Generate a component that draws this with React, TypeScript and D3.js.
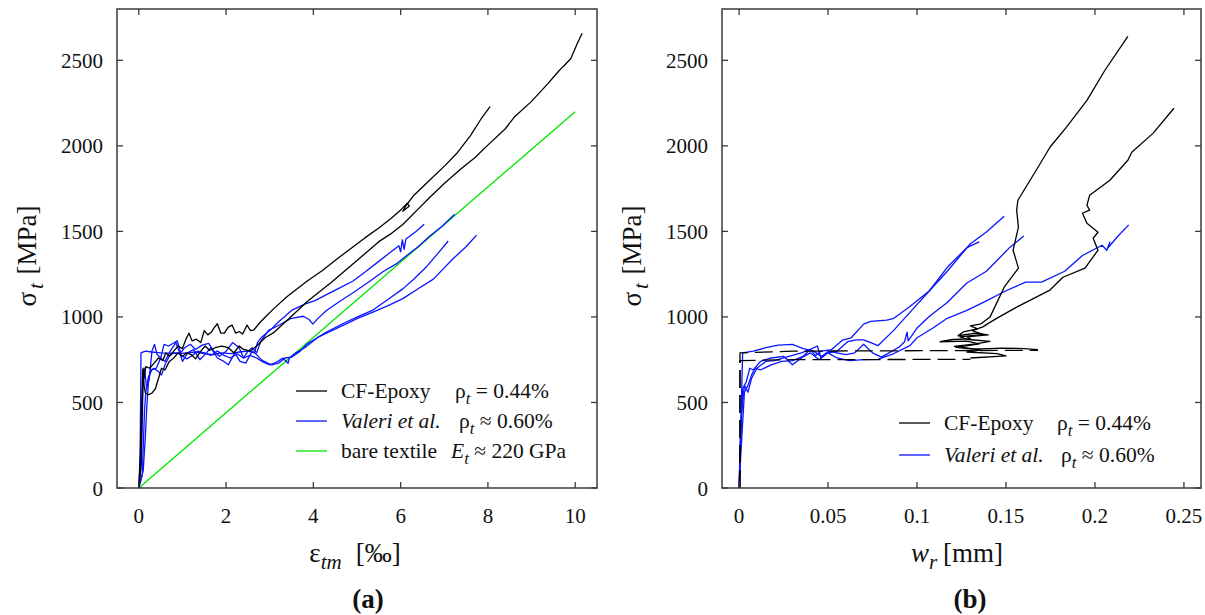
import React from "react";
import * as d3 from "d3";

// ---------- tick values ----------
const strainTicks = [0, 2, 4, 6, 8, 10];
const stressTicks = [0, 500, 1000, 1500, 2000, 2500];
const crackTicks = [0, 0.05, 0.1, 0.15, 0.2, 0.25];
const crackTickLabels = ["0", "0.05", "0.1", "0.15", "0.2", "0.25"];

// ---------- panel (a): strain [‰] vs stress [MPa] ----------
const cfStrainUpper: [number, number][] = [[0,0],[0.03,150],[0.06,450],[0.09,690],[0.12,640],[0.16,710],[0.25,700],[0.35,730],[0.45,760],[0.55,745],[0.62,790],[0.7,770],[0.8,800],[0.9,830],[1.0,815],[1.08,870],[1.15,905],[1.22,860],[1.32,870],[1.42,850],[1.5,920],[1.58,895],[1.66,910],[1.72,935],[1.8,960],[1.88,905],[1.96,905],[2.05,940],[2.14,952],[2.22,905],[2.3,915],[2.38,900],[2.48,952],[2.56,920],[2.64,925],[2.75,960],[2.9,1000],[3.1,1050],[3.4,1120],[3.86,1210],[4.2,1270],[4.6,1350],[5.18,1462],[5.5,1520],[5.8,1580],[6.02,1630],[6.15,1665],[6.2,1648],[6.05,1618],[6.12,1650],[6.3,1710],[6.67,1800],[7.02,1886],[7.3,1960],[7.6,2060],[7.85,2160],[8.05,2230]];
const cfStrainLower: [number, number][] = [[0,0],[0.04,100],[0.07,400],[0.1,700],[0.12,600],[0.15,555],[0.22,545],[0.3,555],[0.38,580],[0.45,640],[0.52,700],[0.6,690],[0.7,740],[0.8,760],[0.9,790],[1.0,770],[1.1,790],[1.2,780],[1.3,755],[1.42,800],[1.52,830],[1.62,805],[1.75,820],[1.9,830],[2.05,820],[2.18,790],[2.3,830],[2.4,810],[2.55,800],[2.7,830],[2.9,880],[3.1,910],[3.4,980],[3.86,1090],[4.4,1200],[5.0,1330],[5.5,1440],[5.8,1490],[6.05,1540],[6.4,1630],[6.67,1700],[7.0,1780],[7.37,1863],[7.7,1930],[7.98,2000],[8.4,2100],[8.6,2167],[9.0,2260],[9.38,2365],[9.6,2430],[9.68,2453],[9.75,2470],[9.9,2511],[9.95,2540],[10.05,2600],[10.16,2658]];
const valeriStrainA: [number, number][] = [[0,0],[0.03,200],[0.05,790],[0.15,800],[0.3,795],[0.5,790],[0.7,788],[0.9,785],[1.1,790],[1.3,795],[1.5,785],[1.7,780],[1.9,790],[2.1,785],[2.3,795],[2.5,800],[2.65,790],[2.72,850],[2.8,878],[3.0,920],[3.2,970],[3.5,1038],[3.8,1075],[4.04,1095],[4.3,1130],[4.56,1164],[4.91,1210],[5.2,1265],[5.44,1313],[5.7,1365],[5.96,1416],[6.0,1380],[6.04,1450],[6.08,1395],[6.12,1455],[6.2,1470],[6.35,1500],[6.54,1542]];
const valeriStrainB: [number, number][] = [[0,0],[0.06,150],[0.1,650],[0.13,700],[0.18,580],[0.24,640],[0.3,800],[0.36,840],[0.42,780],[0.5,760],[0.58,840],[0.68,830],[0.78,845],[0.88,860],[0.96,790],[1.05,820],[1.18,840],[1.3,810],[1.45,835],[1.6,845],[1.72,800],[1.85,770],[2.0,800],[2.15,850],[2.3,820],[2.4,760],[2.5,800],[2.6,820],[2.7,790],[2.8,860],[2.98,923],[3.2,950],[3.5,992],[3.77,1004],[3.9,985],[3.99,958],[4.1,990],[4.3,1038],[4.6,1090],[4.91,1141],[5.3,1210],[5.61,1267],[5.9,1310],[6.14,1359],[6.4,1410],[6.67,1473],[6.95,1530],[7.24,1600]];
const valeriStrainC: [number, number][] = [[0,0],[0.08,80],[0.13,450],[0.16,560],[0.22,650],[0.3,690],[0.4,700],[0.5,760],[0.6,740],[0.72,800],[0.85,850],[0.95,780],[1.0,740],[1.12,790],[1.25,810],[1.4,750],[1.55,790],[1.65,820],[1.8,760],[1.95,740],[2.05,720],[2.2,790],[2.32,740],[2.45,730],[2.6,800],[2.7,780],[2.8,750],[2.95,730],[3.05,720],[3.2,730],[3.35,760],[3.5,765],[3.7,800],[3.86,843],[4.1,880],[4.3,912],[4.74,969],[5.05,1005],[5.35,1038],[5.7,1100],[6.05,1164],[6.3,1220],[6.58,1290],[6.85,1370],[7.09,1444]];
const valeriStrainD: [number, number][] = [[0,0],[0.1,100],[0.15,300],[0.18,460],[0.22,620],[0.27,690],[0.35,700],[0.45,680],[0.52,660],[0.6,720],[0.7,770],[0.8,790],[0.9,790],[1.0,770],[1.1,755],[1.2,770],[1.35,800],[1.5,790],[1.65,775],[1.8,800],[1.95,775],[2.1,760],[2.25,785],[2.4,760],[2.55,775],[2.7,760],[2.85,735],[3.0,720],[3.15,735],[3.3,760],[3.42,729],[3.45,760],[3.6,790],[3.8,820],[3.86,832],[4.1,880],[4.3,905],[4.74,958],[5.0,990],[5.35,1027],[5.7,1065],[6.05,1107],[6.4,1165],[6.75,1221],[7.2,1340],[7.5,1410],[7.74,1478]];
const bareTextile: [number, number][] = [[0,0],[10,2200]];

// ---------- panel (b): crack width [mm] vs stress [MPa] ----------
const cfCrackDashedA: [number, number][] = [[0.0005,0],[0.0005,790],[0.03,800],[0.168,805]];
const cfCrackSolidA: [number, number][] = [[0.168,809],[0.16,815],[0.148,818],[0.132,812],[0.122,822],[0.135,842],[0.128,858],[0.113,855],[0.12,868],[0.13,872],[0.128,884],[0.14,895],[0.133,905],[0.123,890],[0.126,912],[0.134,930],[0.13,948],[0.136,960],[0.141,999],[0.149,1174],[0.157,1285],[0.154,1390],[0.157,1525],[0.156,1624],[0.1567,1682],[0.168,1875],[0.1747,1992],[0.184,2109],[0.1955,2266],[0.2056,2442],[0.2185,2640]];
const cfCrackDashedB: [number, number][] = [[0.0005,0],[0.0005,745],[0.03,750],[0.13,752]];
const cfCrackSolidB: [number, number][] = [[0.13,760],[0.15,772],[0.145,785],[0.128,795],[0.136,808],[0.121,828],[0.133,843],[0.141,857],[0.129,868],[0.124,884],[0.137,898],[0.131,920],[0.137,942],[0.141,968],[0.145,993],[0.156,1057],[0.1747,1157],[0.182,1232],[0.1944,1285],[0.2017,1390],[0.199,1460],[0.2017,1495],[0.1955,1548],[0.193,1606],[0.197,1624],[0.1955,1653],[0.197,1711],[0.2084,1799],[0.2185,1916],[0.2207,1963],[0.2326,2073],[0.2444,2220]];
const valeriCrackA: [number, number][] = [[0,0],[0.0008,300],[0.002,790],[0.008,800],[0.015,820],[0.022,835],[0.03,840],[0.036,815],[0.042,800],[0.046,770],[0.05,790],[0.055,760],[0.062,745],[0.07,750],[0.078,752],[0.087,786],[0.096,832],[0.1,878],[0.109,935],[0.117,992],[0.128,1038],[0.137,1084],[0.15,1153],[0.161,1203],[0.17,1203],[0.183,1267],[0.193,1359],[0.204,1419],[0.2067,1390],[0.2084,1437],[0.207,1400],[0.213,1473],[0.219,1538]];
const valeriCrackB: [number, number][] = [[0,0],[0.001,400],[0.003,600],[0.005,560],[0.007,640],[0.01,700],[0.015,740],[0.02,745],[0.025,760],[0.03,775],[0.035,790],[0.04,810],[0.043,774],[0.046,800],[0.052,809],[0.058,864],[0.063,878],[0.07,958],[0.074,974],[0.083,981],[0.087,992],[0.096,1061],[0.107,1153],[0.117,1267],[0.13,1428],[0.139,1496],[0.149,1588]];
const valeriCrackC: [number, number][] = [[0,0],[0.001,300],[0.002,580],[0.004,620],[0.006,700],[0.008,690],[0.012,740],[0.018,760],[0.025,770],[0.03,720],[0.035,760],[0.04,790],[0.045,750],[0.05,790],[0.055,800],[0.061,855],[0.066,866],[0.07,866],[0.074,850],[0.078,832],[0.087,923],[0.096,1027],[0.107,1153],[0.117,1290],[0.128,1405],[0.135,1439]];
const valeriCrackD: [number, number][] = [[0,0],[0.001,200],[0.003,560],[0.005,600],[0.007,660],[0.009,700],[0.012,690],[0.018,720],[0.024,740],[0.03,745],[0.036,770],[0.04,810],[0.044,830],[0.046,760],[0.05,800],[0.055,790],[0.06,780],[0.065,790],[0.07,840],[0.075,790],[0.08,765],[0.09,824],[0.093,855],[0.0944,911],[0.095,860],[0.1,935],[0.107,1004],[0.117,1084],[0.128,1198],[0.139,1267],[0.152,1405],[0.16,1473]];

// ---------- styling ----------
const FONT = "'Liberation Serif', 'Times New Roman', serif";
const BLACK = "#000000";
const BLUE = "#0a14ff";
const GREEN = "#00e600";
const FRAME = "#3a3a3a";

const TOP = 9;
const BOTTOM = 488;

type Series = { data: [number, number][]; color: string; dash?: string };

function Panel(props: {
  left: number;
  right: number;
  xDomain: [number, number];
  xTicks: number[];
  xTickLabels: string[];
  series: Series[];
}) {
  const { left, right, xDomain, xTicks, xTickLabels, series } = props;
  const x = d3.scaleLinear().domain(xDomain).range([left, right]);
  const y = d3.scaleLinear().domain([0, 2800]).range([BOTTOM, TOP]);
  const line = d3
    .line<[number, number]>()
    .x((d) => x(d[0]))
    .y((d) => y(d[1]));
  const tl = 6;
  return (
    <g>
      {series.map((s, i) => (
        <path
          key={i}
          d={line(s.data) || ""}
          fill="none"
          stroke={s.color}
          strokeWidth={1.3}
          strokeDasharray={s.dash}
          strokeLinejoin="round"
        />
      ))}
      <rect
        x={left}
        y={TOP}
        width={right - left}
        height={BOTTOM - TOP}
        fill="none"
        stroke={FRAME}
        strokeWidth={1.5}
      />
      {xTicks.map((t, i) => (
        <g key={"x" + i}>
          <line x1={x(t)} x2={x(t)} y1={BOTTOM} y2={BOTTOM - tl} stroke={FRAME} strokeWidth={1.3} />
          <line x1={x(t)} x2={x(t)} y1={TOP} y2={TOP + tl} stroke={FRAME} strokeWidth={1.3} />
          <text x={x(t)} y={523} textAnchor="middle" fontFamily={FONT} fontSize={21} fill="#111">
            {xTickLabels[i]}
          </text>
        </g>
      ))}
      {stressTicks.map((t, i) => (
        <g key={"y" + i}>
          <line x1={left} x2={left + tl} y1={y(t)} y2={y(t)} stroke={FRAME} strokeWidth={1.3} />
          <line x1={right} x2={right - tl} y1={y(t)} y2={y(t)} stroke={FRAME} strokeWidth={1.3} />
          <text x={left - 14} y={y(t) + 7.5} textAnchor="end" fontFamily={FONT} fontSize={21} fill="#111">
            {String(t)}
          </text>
        </g>
      ))}
      <text
        transform={`translate(${left - 81},256) rotate(-90)`}
        textAnchor="middle"
        fontFamily={FONT}
        fontSize={27}
        fill="#111"
      >
        σ
        <tspan dy={7} dx={3} fontSize={21} fontStyle="italic">t</tspan>
        <tspan dy={-7} dx={2}> [MPa]</tspan>
      </text>
    </g>
  );
}

export default function App() {
  const fs = 21.5;
  return (
    <svg
      width={1205}
      height={615}
      style={{ position: "absolute", left: 0, top: 0, background: "#fff" }}
      fontFamily={FONT}
    >
      <rect x={0} y={0} width={1205} height={615} fill="#fff" />
      <Panel
        left={117}
        right={597}
        xDomain={[-0.5, 10.5]}
        xTicks={strainTicks}
        xTickLabels={strainTicks.map(String)}
        series={[
          { data: bareTextile, color: GREEN },
          { data: valeriStrainA, color: BLUE },
          { data: valeriStrainB, color: BLUE },
          { data: valeriStrainC, color: BLUE },
          { data: valeriStrainD, color: BLUE },
          { data: cfStrainUpper, color: BLACK },
          { data: cfStrainLower, color: BLACK },
        ]}
      />
      <Panel
        left={722}
        right={1201}
        xDomain={[-0.0096, 0.2596]}
        xTicks={crackTicks}
        xTickLabels={crackTickLabels}
        series={[
          { data: valeriCrackA, color: BLUE },
          { data: valeriCrackB, color: BLUE },
          { data: valeriCrackC, color: BLUE },
          { data: valeriCrackD, color: BLUE },
          { data: cfCrackDashedA, color: BLACK, dash: "18,7" },
          { data: cfCrackDashedB, color: BLACK, dash: "18,7" },
          { data: cfCrackSolidA, color: BLACK },
          { data: cfCrackSolidB, color: BLACK },
        ]}
      />

      {/* x-axis labels */}
      <text x={355} y={562} textAnchor="middle" fontSize={27} fill="#111">
        ε<tspan dy={7} fontSize={21} fontStyle="italic">tm</tspan>
        <tspan dy={-7} dx={14}>[‰]</tspan>
      </text>
      <text x={957} y={562} textAnchor="middle" fontSize={27} fill="#111">
        <tspan fontStyle="italic">w</tspan>
        <tspan dy={7} fontSize={21} fontStyle="italic">r</tspan>
        <tspan dy={-7} dx={6}>[mm]</tspan>
      </text>
      <text x={368} y={608} textAnchor="middle" fontSize={27} fontWeight="bold" fill="#111">(a)</text>
      <text x={970} y={608} textAnchor="middle" fontSize={27} fontWeight="bold" fill="#111">(b)</text>

      {/* legend (a) */}
      <g fontSize={fs} fill="#111">
        <line x1={296} x2={327} y1={391} y2={391} stroke={BLACK} strokeWidth={1.3} />
        <text x={341} y={398}>CF-Epoxy</text>
        <text x={455} y={398}>ρ<tspan dy={6} fontSize={17} fontStyle="italic">t</tspan><tspan dy={-6}> = 0.44%</tspan></text>
        <line x1={296} x2={327} y1={421} y2={421} stroke={BLUE} strokeWidth={1.3} />
        <text x={341} y={428} fontStyle="italic">Valeri et al.</text>
        <text x={459} y={428}>ρ<tspan dy={6} fontSize={17} fontStyle="italic">t</tspan><tspan dy={-6}> ≈ 0.60%</tspan></text>
        <line x1={296} x2={327} y1={451} y2={451} stroke={GREEN} strokeWidth={1.3} />
        <text x={341} y={458}>bare textile</text>
        <text x={451} y={458}><tspan fontStyle="italic">E</tspan><tspan dy={6} fontSize={17} fontStyle="italic">t</tspan><tspan dy={-6}> ≈ 220 GPa</tspan></text>
      </g>

      {/* legend (b) */}
      <g fontSize={fs} fill="#111">
        <line x1={899} x2={930} y1={423} y2={423} stroke={BLACK} strokeWidth={1.3} />
        <text x={944} y={430}>CF-Epoxy</text>
        <text x={1057} y={430}>ρ<tspan dy={6} fontSize={17} fontStyle="italic">t</tspan><tspan dy={-6}> = 0.44%</tspan></text>
        <line x1={899} x2={930} y1={455} y2={455} stroke={BLUE} strokeWidth={1.3} />
        <text x={944} y={462} fontStyle="italic">Valeri et al.</text>
        <text x={1061} y={462}>ρ<tspan dy={6} fontSize={17} fontStyle="italic">t</tspan><tspan dy={-6}> ≈ 0.60%</tspan></text>
      </g>
    </svg>
  );
}
